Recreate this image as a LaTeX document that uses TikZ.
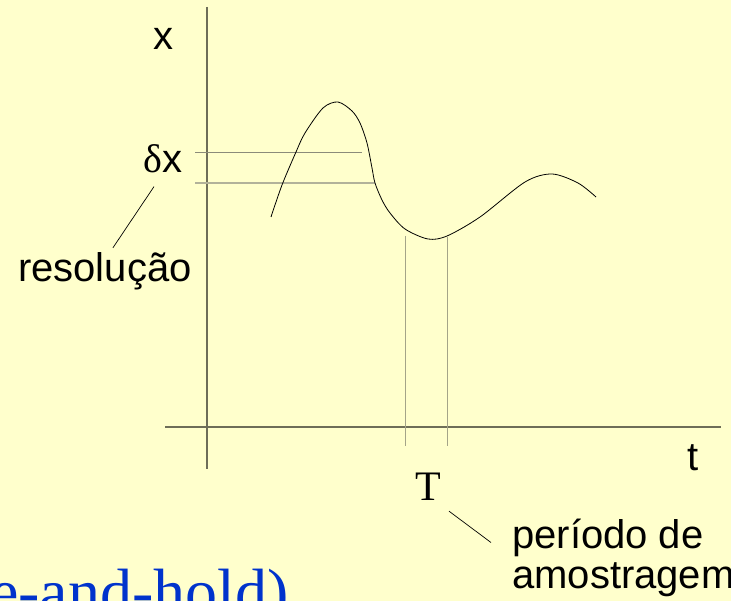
\documentclass[tikz,border=0pt]{standalone}
\usepackage{fontspec}
\setmainfont{Liberation Serif}
\setsansfont{Liberation Sans}
\usepackage{xcolor}
\usetikzlibrary{positioning}

\definecolor{paper}{HTML}{FFFFCC}
\definecolor{axisgray}{HTML}{6E6E58}
\definecolor{guidegray}{HTML}{A4A488}
\definecolor{slideblue}{HTML}{0033CC}

\begin{document}
\begin{tikzpicture}[
  x=1pt, y=-1pt,
  lbl/.style={inner sep=0pt, anchor=base, font=\sffamily\fontsize{40}{42}\selectfont},
  serif/.style={inner sep=0pt, anchor=base, font=\rmfamily\fontsize{42}{44}\selectfont},
  axis/.style={draw=axisgray, line width=1.5pt},
  guide/.style={draw=guidegray, line width=1pt},
  lead/.style={draw=black, line width=0.7pt}
]
\fill[paper] (0,0) rectangle (731,601);
\useasboundingbox (0,0) rectangle (731,601);
\clip (0,0) rectangle (731,601);

% axes
\draw[axis] (207,7) -- (207,469);
\draw[axis] (165,427) -- (721,427);

% resolution and sampling guides
\draw[draw=axisgray!80, line width=0.8pt] (195,152) -- (362,152);
\draw[draw=guidegray!85, line width=1.5pt] (195,183) -- (375,183);
\draw[guide] (405,236) -- (405,446);
\draw[guide] (447,237) -- (447,446);

% signal
\draw[black, line width=0.8pt] plot[smooth, tension=0.5] coordinates {
  (271,217) (282,185) (296,152) (305,133) (323,108) (338,102) (352,111)
  (360,123) (367,143) (372,168) (375,183) (382,200) (390,213) (405,229)
  (428,239) (447,236) (480,217) (525,182) (552,174) (578,183) (596,197)};

% labels
\node[lbl] (xlab) at (163,50) {x};
\node[lbl] (dx) at (163,173) {{\rmfamily δ}x};
\node[lbl, anchor=base west] (res) at (18,282) {resolução};
\node[lbl] (tlab) at (693,470) {t};
\node[serif] (per) at (428,500) {T};
\node[lbl, anchor=base west] (pdesc) at (512,548) {período de};
\node[lbl, anchor=base west] (pamo) at ([yshift=-40pt]pdesc.base west) {amostragem};
\node[inner sep=0pt, anchor=base west, text=slideblue,
  font=\rmfamily\fontsize{64}{66}\selectfont] (hold) at (-10,613) {e-and-hold)};

\draw[lead] ([shift={(-9pt,-13pt)}]dx.south) -- ([shift={(8pt,5pt)}]res.north);
\draw[lead] ([shift={(8pt,-11pt)}]per.south east) -- ([shift={(-21pt,14pt)}]pdesc.south west);
\end{tikzpicture}
\end{document}
